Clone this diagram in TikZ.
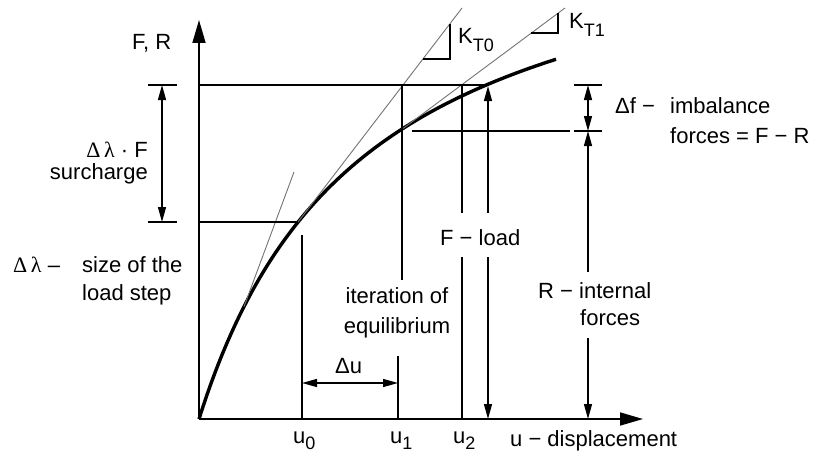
\documentclass[tikz,border=0pt]{standalone}
\usepackage{fontspec}
\setmainfont{Liberation Sans}
\newfontfamily\greekf{Liberation Serif}
\usetikzlibrary{arrows.meta}
\newcommand{\lowsub}[1]{\raisebox{-8pt}{\fontsize{18}{18}\selectfont #1}}
\newcommand{\lowsubb}[1]{\raisebox{-6.5pt}{\fontsize{18}{18}\selectfont #1}}
\begin{document}
\begin{tikzpicture}[x=1pt,y=-1pt,
  font=\fontsize{22}{29}\selectfont,
  ax/.style={line width=1.7pt,-{Triangle[length=23pt,width=13pt]}},
  thinln/.style={line width=1.3pt},
  tang/.style={line width=0.9pt,black!55},
  dimboth/.style={line width=1.3pt,{Triangle[length=15pt,width=8pt]}-{Triangle[length=15pt,width=8pt]}},
  dimend/.style={line width=1.3pt,-{Triangle[length=15pt,width=8pt]}},
  lbl/.style={inner sep=0pt,anchor=base west},
  lble/.style={inner sep=0pt,anchor=base east},
  lblc/.style={inner sep=0pt,anchor=base}]
\useasboundingbox (0,0) rectangle (813,452);
% axes
\coordinate (O) at (199,419);
\coordinate (ytip) at (199,20);
\coordinate (xtip) at (643,419);
\draw[ax] (O) -- (ytip);
\draw[ax] (O) -- (xtip);
% load-displacement curve
\draw[line width=3.4pt] plot[domain=0:357,samples=90] ({199+\x},{419-527*(\x/(166+\x))});
% tangents
\coordinate (t0a) at (244,306.6); \coordinate (t0b) at (294,172);
\draw[tang] (t0a) -- (t0b);
\coordinate (k0a) at (298,222); \coordinate (k0b) at (462,8);
\draw[tang] (k0a) -- (k0b);
\coordinate (k1a) at (401,130); \coordinate (k1b) at (565,8);
\draw[tang] (k1a) -- (k1b);
% slope triangles
\coordinate (tr0a) at (422.9,59); \coordinate (tr0b) at (450,59); \coordinate (tr0c) at (450,23.6);
\draw[line width=1.1pt] (tr0a) -- (tr0b) -- (tr0c);
\coordinate (tr1a) at (531.4,33); \coordinate (tr1b) at (558,33); \coordinate (tr1c) at (558,13.2);
\draw[line width=1.1pt] (tr1a) -- (tr1b) -- (tr1c);
% horizontal construction lines
\coordinate (h1a) at (148,85); \coordinate (h1b) at (177,85);
\coordinate (h1c) at (199,85); \coordinate (h1d) at (488,85);
\draw[thinln] (h1a) -- (h1b); \draw[thinln] (h1c) -- (h1d);
\coordinate (h2a) at (148,222); \coordinate (h2b) at (177,222);
\coordinate (h2c) at (199,222); \coordinate (h2d) at (298,222);
\draw[thinln] (h2a) -- (h2b); \draw[thinln] (h2c) -- (h2d);
\coordinate (h3a) at (574,85); \coordinate (h3b) at (602,85);
\draw[thinln] (h3a) -- (h3b);
\coordinate (h4a) at (412,131); \coordinate (h4b) at (570,131);
\coordinate (h4c) at (574,131); \coordinate (h4d) at (602,131);
\draw[thinln] (h4a) -- (h4b); \draw[thinln] (h4c) -- (h4d);
% vertical construction lines
\coordinate (v0a) at (302,235); \coordinate (v0b) at (302,419);
\draw[thinln] (v0a) -- (v0b);
\coordinate (v1a) at (402,85); \coordinate (v1b) at (402,280);
\coordinate (v1c) at (398,356); \coordinate (v1d) at (398,419);
\draw[thinln] (v1a) -- (v1b); \draw[thinln] (v1c) -- (v1d);
\coordinate (v2a) at (462,85); \coordinate (v2b) at (462,213);
\coordinate (v2c) at (462,257); \coordinate (v2d) at (462,419);
\draw[thinln] (v2a) -- (v2b); \draw[thinln] (v2c) -- (v2d);
% dimension arrows
\coordinate (sa) at (162,85); \coordinate (sb) at (162,222);
\draw[dimboth] (sa) -- (sb);
\coordinate (dua) at (302,383); \coordinate (dub) at (398,383);
\draw[dimboth] (dua) -- (dub);
\coordinate (fa) at (488,213); \coordinate (fb) at (488,86);
\coordinate (fc) at (488,257); \coordinate (fd) at (488,419);
\draw[dimend] (fa) -- (fb); \draw[dimend] (fc) -- (fd);
\coordinate (ra) at (588,272); \coordinate (rb) at (588,131);
\coordinate (rc) at (588,338); \coordinate (rd) at (588,419);
\draw[dimend] (ra) -- (rb); \draw[dimend] (rc) -- (rd);
\coordinate (dfa) at (588,85); \coordinate (dfb) at (588,131);
\draw[dimboth] (dfa) -- (dfb);
% labels
\node[lbl] (FR) at (132,50) {F, R};
\node[lble] (dlF) at (148,157) {{\greekf Δ\,λ} · F};
\node[lble] (surch) at (148,179) {surcharge};
\node[lbl] (dl) at (13,272) {{\greekf Δ\,λ} –};
\node[lbl] (size1) at (82,272) {size of the};
\node[lbl] (size2) at (82,300) {load step};
\node[lblc] (it1) at (397,303) {iteration of};
\node[lblc] (it2) at (397,333) {equilibrium};
\node[lbl] (Fload) at (440,245) {F − load};
\node[lbl] (Rint1) at (538,298) {R − internal};
\node[lbl] (Rint2) at (580,325) {forces};
\node[lbl] (df1) at (615,113) {Δf −};
\node[lbl] (df2) at (670,113) {imbalance};
\node[lbl] (df3) at (670,143) {forces = F − R};
\node[lbl] (du) at (335,373) {Δu};
\node[lbl] (KT0) at (458,44) {K\lowsub{T0}};
\node[lbl] (KT1) at (569,29) {K\lowsub{T1}};
\node[lbl] (u0) at (293,443) {u\lowsubb{0}};
\node[lbl] (u1) at (390,443) {u\lowsubb{1}};
\node[lbl] (u2) at (453,443) {u\lowsubb{2}};
\node[lbl] (udisp) at (510,446) {u − displacement};
\end{tikzpicture}
\end{document}
